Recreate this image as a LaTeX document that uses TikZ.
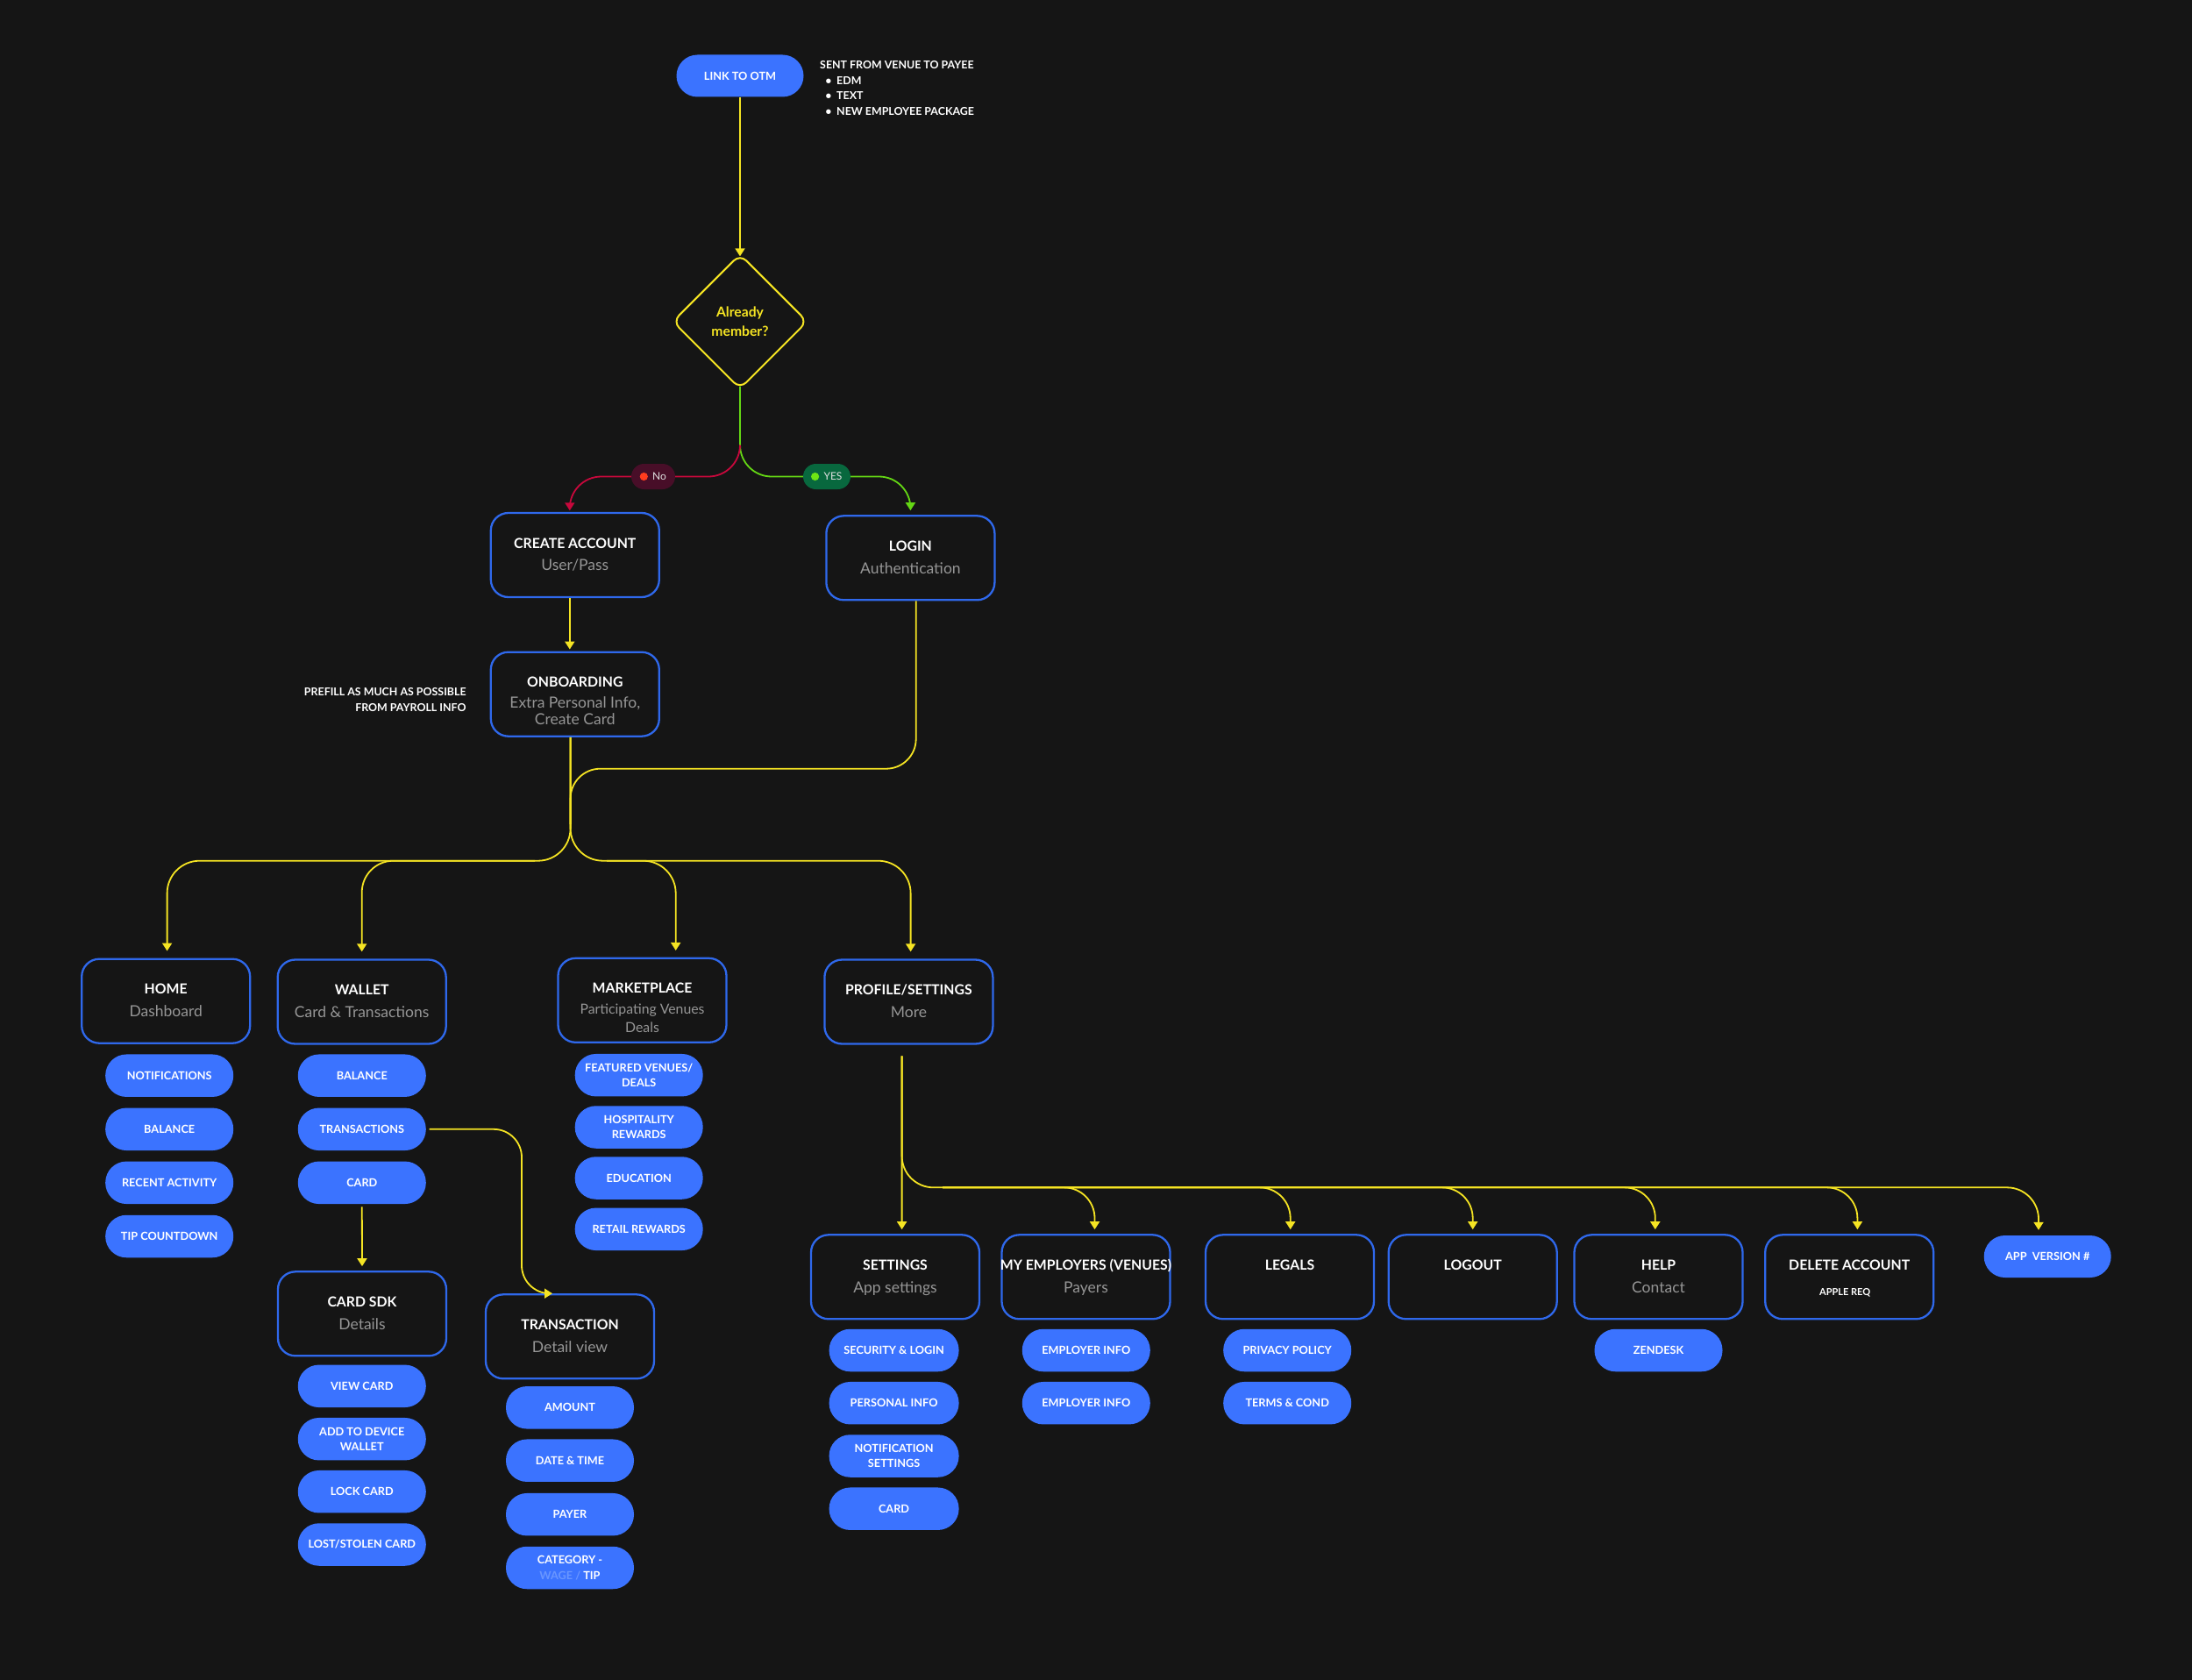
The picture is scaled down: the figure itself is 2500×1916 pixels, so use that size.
\documentclass[tikz,border=0pt]{standalone}
\usepackage{fontspec}
\setmainfont{Lato}
\usetikzlibrary{arrows.meta,shapes.geometric,calc}
\definecolor{bg}{RGB}{21,21,21}
\definecolor{pillblue}{RGB}{59,115,255}
\definecolor{boxblue}{RGB}{47,104,235}
\definecolor{ylw}{RGB}{245,228,35}
\definecolor{rln}{RGB}{200,8,60}
\definecolor{gln}{RGB}{100,215,20}
\definecolor{nofill}{RGB}{72,14,40}
\definecolor{yesfill}{RGB}{8,104,62}
\definecolor{reddot}{RGB}{255,60,30}
\definecolor{greendot}{RGB}{110,230,20}
\definecolor{subgrey}{RGB}{150,150,150}
\definecolor{fadeblue}{RGB}{105,150,255}
\newcommand\pillfont{\fontsize{12.7}{17.3}\selectfont\bfseries}
\newcommand\ttlfont{\fontsize{15.8}{18}\selectfont\bfseries}
\newcommand\subfont{\fontsize{17.5}{20}\selectfont}
\newcommand\msubfont{\fontsize{15.8}{20}\selectfont}
\newcommand\notefont{\fontsize{12.4}{16}\selectfont\bfseries}
\newcommand\dfont{\fontsize{15.7}{21.6}\selectfont\bfseries}
\newcommand\bx[5]{%
  \node[bigbox] (#1) at (#2,#3) {};
  \node[ttl] (#1-t) at ([yshift=7.9pt]#1.center) {#4};
  \node[subt] (#1-s) at ([yshift=-17.7pt]#1.center) {#5};}
\begin{document}
\begin{tikzpicture}[x=1pt,y=-1pt,
  bigbox/.style={draw=boxblue, line width=2.3pt, rounded corners=20pt, minimum width=192pt, minimum height=96pt, inner sep=0pt, fill=bg},
  pill/.style={fill=pillblue, rounded corners=24pt, minimum width=146pt, minimum height=48.5pt, inner sep=0pt, text=white, font=\pillfont, align=center},
  ttl/.style={anchor=base, text=white, font=\ttlfont, inner sep=0pt},
  subt/.style={anchor=base, text=subgrey, font=\subfont, inner sep=0pt},
  note/.style={text=white, font=\notefont, inner sep=0pt},
  lblpill/.style={rounded corners=14.5pt, minimum height=29pt, inner sep=0pt},
  lbltxt/.style={text=white!88!black, font=\fontsize{12}{14}\selectfont, inner sep=0pt},
  dot/.style={circle, minimum size=9.2pt, inner sep=0pt},
  arr/.style={-{Triangle[length=9pt,width=11pt]}},
  yln/.style={draw=ylw, line width=1.8pt},
  yarr/.style={yln, arr},
]
\fill[bg] (0,0) rectangle (2500,1916);
\useasboundingbox (0,0) rectangle (2500,1916);

% top
\node[pill, minimum width=145pt, minimum height=48pt] (link) at (844,86.5) {LINK TO OTM};
\node[note, anchor=base west] (sent) at (935,78.8) {SENT FROM VENUE TO PAYEE};
\node[note, anchor=base] (d1) at (945,96.2) {\textbullet};
\node[note, anchor=base west] (n1) at (954,96.2) {EDM};
\node[note, anchor=base] (d2) at (945,113.8) {\textbullet};
\node[note, anchor=base west] (n2) at (954,113.8) {TEXT};
\node[note, anchor=base] (d3) at (945,131.2) {\textbullet};
\node[note, anchor=base west] (n3) at (954,131.2) {NEW EMPLOYEE PACKAGE};

\node[diamond, aspect=1, draw=ylw, line width=2pt, rounded corners=10pt, minimum width=154pt, minimum height=154pt, inner sep=0pt, text=ylw, font=\dfont, align=center] (dec) at (844,366.7) {Already\\member?};

\node[lblpill, fill=nofill, minimum width=50pt] (no) at (745,543.5) {};
\node[dot, fill=reddot] (nodot) at ([xshift=-10.7pt]no.center) {};
\node[lbltxt] (notxt) at ([xshift=7pt]no.center) {No};
\node[lblpill, fill=yesfill, minimum width=54pt] (yes) at (943,543.5) {};
\node[dot, fill=greendot] (yesdot) at ([xshift=-13.4pt]yes.center) {};
\node[lbltxt] (yestxt) at ([xshift=7pt]yes.center) {YES};

% main boxes
\bx{create}{655.8}{633}{CREATE ACCOUNT}{User/Pass}
\bx{login}{1038.4}{636.3}{LOGIN}{Authentication}
\node[bigbox] (onb) at (655.8,791.7) {};
\node[ttl] (onb-t) at ([yshift=7.9pt]onb.center) {ONBOARDING};
\node[subt] (onb-s) at ([yshift=-15.5pt]onb.center) {Extra Personal Info,};
\node[subt] (onb-s2) at ([yshift=-34.5pt]onb.center) {Create Card};
\node[note, anchor=base east] (pf1) at (531.8,793.8) {PREFILL AS MUCH AS POSSIBLE};
\node[note, anchor=base east] (pf2) at (531.8,811.2) {FROM PAYROLL INFO};

\bx{home}{189.2}{1141.7}{HOME}{Dashboard}
\bx{wallet}{412.7}{1142.5}{WALLET}{Card \& Transactions}
\node[bigbox] (market) at (732.5,1140.8) {};
\node[ttl] (market-t) at ([yshift=7.9pt]market.center) {MARKETPLACE};
\node[subt, font=\msubfont] (market-s) at ([yshift=-15.8pt]market.center) {Participating Venues};
\node[subt, font=\msubfont] (market-s2) at ([yshift=-36.5pt]market.center) {Deals};
\bx{profile}{1036.4}{1142.5}{PROFILE/SETTINGS}{More}

% home pills
\node[pill] (hn) at (193.2,1226.7) {NOTIFICATIONS};
\node[pill] (hb) at (193.2,1287.8) {BALANCE};
\node[pill] (hr) at (193.2,1348.8) {RECENT ACTIVITY};
\node[pill] (ht) at (193.2,1410) {TIP COUNTDOWN};
% wallet pills
\node[pill] (wb) at (412.8,1226.7) {BALANCE};
\node[pill] (wtr) at (412.8,1287.8) {TRANSACTIONS};
\node[pill] (wcard) at (412.8,1348.8) {CARD};
% market pills
\node[pill] (mf) at (728.7,1226.2) {FEATURED VENUES/\\DEALS};
\node[pill] (mh) at (728.7,1285.5) {HOSPITALITY\\REWARDS};
\node[pill] (me) at (728.7,1343.5) {EDUCATION};
\node[pill] (mr) at (728.7,1401.8) {RETAIL REWARDS};

% card sdk / transaction
\bx{sdk}{413}{1498.3}{CARD SDK}{Details}
\bx{tdet}{650}{1524.3}{TRANSACTION}{Detail view}
\node[pill] (sv) at (412.8,1580.8) {VIEW CARD};
\node[pill] (sa) at (412.8,1641.2) {ADD TO DEVICE\\WALLET};
\node[pill] (sl) at (412.8,1701.2) {LOCK CARD};
\node[pill] (ss) at (412.8,1761.5) {LOST/STOLEN CARD};
\node[pill] (ta) at (650,1605.3) {AMOUNT};
\node[pill] (td) at (650,1665.7) {DATE \& TIME};
\node[pill] (tp) at (650,1727.2) {PAYER};
\node[pill] (tc) at (650,1788) {CATEGORY -\\\textcolor{fadeblue}{WAGE /} TIP};

% profile children
\bx{settings}{1021}{1456.3}{SETTINGS}{App settings}
\bx{emp}{1238.5}{1456.3}{MY EMPLOYERS (VENUES)}{Payers}
\bx{legals}{1471}{1456.3}{LEGALS}{}
\bx{logout}{1679.7}{1456.3}{LOGOUT}{}
\bx{help}{1891.5}{1456.3}{HELP}{Contact}
\node[bigbox] (delete) at (2109.2,1456.3) {};
\node[ttl] (delete-t) at ([yshift=7.9pt]delete.center) {DELETE ACCOUNT};
\node[anchor=base, text=white, font=\fontsize{11}{13}\selectfont\bfseries, inner sep=0pt] (delete-s) at ([xshift=-5pt,yshift=-21.2pt]delete.center) {APPLE REQ};
\node[pill, minimum width=145pt, minimum height=48pt] (app) at (2335.2,1433) {APP\ \ VERSION \#};

\node[pill, minimum width=148pt] (p1) at (1019.6,1540) {SECURITY \& LOGIN};
\node[pill, minimum width=148pt] (p2) at (1019.6,1600.2) {PERSONAL INFO};
\node[pill, minimum width=148pt] (p3) at (1019.6,1660.5) {NOTIFICATION\\SETTINGS};
\node[pill, minimum width=148pt] (p4) at (1019.6,1720.7) {CARD};
\node[pill] (e1) at (1238.8,1540) {EMPLOYER INFO};
\node[pill] (e2) at (1238.8,1600.2) {EMPLOYER INFO};
\node[pill] (l1) at (1468.2,1540) {PRIVACY POLICY};
\node[pill] (l2) at (1468.2,1600.2) {TERMS \& COND};
\node[pill] (z1) at (1891.5,1540) {ZENDESK};

% helper coordinates
\coordinate (split) at (844,507.5);
\coordinate (j1) at (650.6,876.7);
\coordinate (j2) at (650.6,940);
\coordinate (hub) at (650.6,981.7);
\coordinate (hubL) at (610,981.7);
\coordinate (hubR) at (692,981.7);
\coordinate (psTop) at ([xshift=-7.8pt,yshift=-12.6pt]profile.south);
\coordinate (bus) at (1028.6,1354.3);
\coordinate (busR) at (1075,1354.3);

% connectors
\draw[yarr] (link.south) -- ([yshift=-3.6pt]dec.north);
\draw[draw=gln, line width=1.8pt, rounded corners=36pt] ([yshift=4pt]dec.south) |- (yes.west);
\draw[draw=gln, line width=1.8pt, arr, rounded corners=36pt] (yes.east) -| ([yshift=5pt]login.north);
\draw[draw=rln, line width=1.8pt, rounded corners=36pt] (split) |- (no.east);
\draw[draw=rln, line width=1.8pt, arr, rounded corners=36pt] (no.west) -| ([xshift=-6pt,yshift=1.6pt]create.north);
\draw[yarr] ([xshift=-6pt]create.south) -- ([xshift=-6pt,yshift=2pt]onb.north);

\draw[yln, rounded corners=34pt] ([xshift=6.3pt]login.south) |- (j1) -- (j2);
\draw[yarr, rounded corners=37pt] ([xshift=-5.2pt]onb.south) -- (hub) -| ([xshift=1.4pt,yshift=8pt]home.north);
\draw[yarr, rounded corners=37pt] ([xshift=-5.2pt]onb.south) -- (hub) -| ([xshift=2.2pt,yshift=8pt]profile.north);
\draw[yarr, rounded corners=36pt] (hubL) -| ([yshift=8pt]wallet.north);
\draw[yarr, rounded corners=37pt] (hubR) -| ([xshift=38.2pt,yshift=7.7pt]market.north);

\draw[yarr, rounded corners=32pt] ([xshift=3.6pt]wtr.east) -| ([xshift=-55pt]tdet.north) -- ([xshift=-20pt]tdet.north);
\draw[yarr] ([yshift=-3pt]wcard.south) -- ([yshift=5pt]sdk.north);

\draw[yarr] (psTop) -- ([xshift=7.6pt,yshift=5pt]settings.north);
\draw[yarr, rounded corners=36pt] (psTop) -- (bus) -| ([xshift=-10.2pt,yshift=6pt]app.north);
\draw[yarr, rounded corners=35pt] (busR) -| ([xshift=10pt,yshift=5pt]emp.north);
\draw[yarr, rounded corners=35pt] (busR) -| ([xshift=0.7pt,yshift=5pt]legals.north);
\draw[yarr, rounded corners=35pt] (busR) -| ([yshift=5pt]logout.north);
\draw[yarr, rounded corners=35pt] (busR) -| ([xshift=-3.7pt,yshift=5pt]help.north);
\draw[yarr, rounded corners=35pt] (busR) -| ([xshift=9.2pt,yshift=5pt]delete.north);
\end{tikzpicture}
\end{document}
